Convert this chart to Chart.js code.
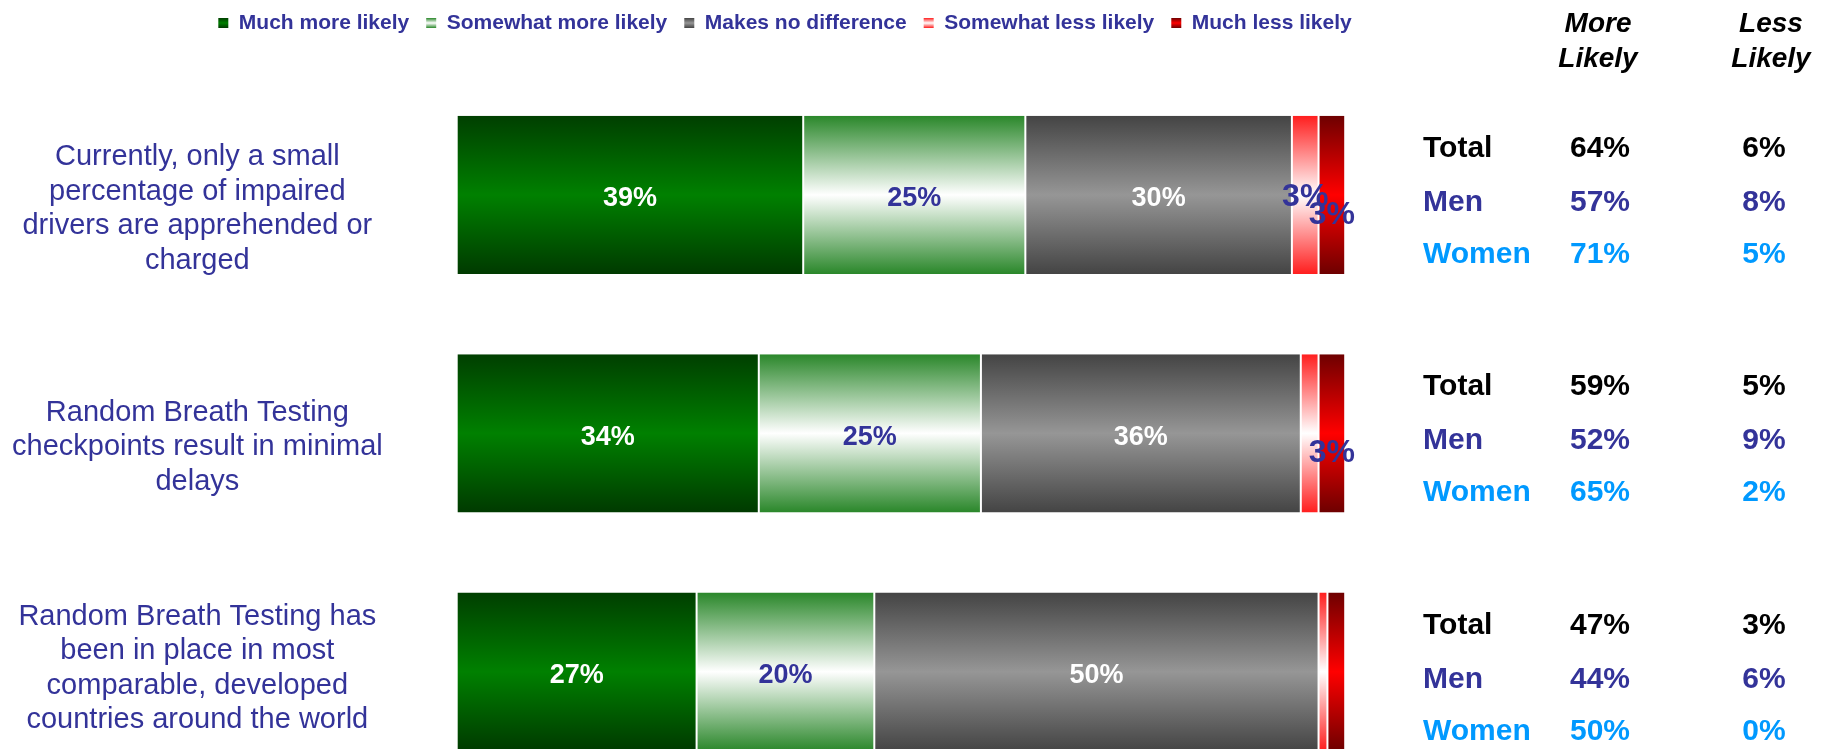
<!DOCTYPE html>
<html><head><meta charset="utf-8">
<script src="https://cdn.jsdelivr.net/npm/chart.js@4"></script>
<style>html,body{margin:0;padding:0;overflow:hidden;background:#fff;width:1836px;height:749px}canvas{display:block}</style>
</head><body>
<canvas id="c" width="1836" height="800"></canvas>
<script>
// ---- data ----
const categories = [
  ["Currently, only a small", "percentage of impaired", "drivers are apprehended or", "charged"],
  ["Random Breath Testing", "checkpoints result in minimal", "delays"],
  ["Random Breath Testing has", "been in place in most", "comparable, developed", "countries around the world"]
];
const seriesNames = ["Much more likely", "Somewhat more likely", "Makes no difference", "Somewhat less likely", "Much less likely"];
const muchMore     = [39, 34, 27];
const somewhatMore = [25, 25, 20];
const noDifference = [30, 36, 50];
const somewhatLess = [3, 2, 1];
const muchLess     = [3, 3, 2];

const columnHeaders = [["More", "Likely"], ["Less", "Likely"]];
const groupNames = ["Total", "Men", "Women"];
const totalMore = [64, 59, 47];
const totalLess = [6, 5, 3];
const menMore   = [57, 52, 44];
const menLess   = [8, 9, 6];
const womenMore = [71, 65, 50];
const womenLess = [5, 2, 0];

// ---- styles ----
const FONT = "'Liberation Sans', Arial, Helvetica, sans-serif";
const NAVY = '#333399';
const gradStops = [
  ['#003f00', '#008000', '#003a00'],
  ['#2a872a', '#ffffff', '#2a872a'],
  ['#444444', '#969696', '#444444'],
  ['#ff1e1e', '#ffffff', '#ff1e1e'],
  ['#6e0000', '#ff0000', '#6e0000']
];
const labelStyle = [
  {color: '#ffffff', size: 27, dy: 4, min: 0},
  {color: NAVY, size: 27, dy: 4, min: 0},
  {color: '#ffffff', size: 27, dy: 4, min: 0},
  {color: NAVY, size: 32, dy: 2, min: 3},
  {color: NAVY, size: 32, dy: 20, min: 3}
];
const BAR_FRACTION = 0.664;
const X_MAX = 125.3;

function makeGrad(ctx2d, y0, y1, stops) {
  const g = ctx2d.createLinearGradient(0, y0, 0, y1);
  g.addColorStop(0, stops[0]);
  g.addColorStop(0.5, stops[1]);
  g.addColorStop(1, stops[2]);
  return g;
}
function barFill(stops) {
  return (ctx) => {
    const chart = ctx.chart;
    const ys = chart.scales.y;
    if (!chart.chartArea || !ys || ctx.dataIndex === undefined) return stops[1];
    const c = ys.getPixelForValue(ctx.dataIndex);
    const half = (ys.height / categories.length) * BAR_FRACTION / 2;
    return makeGrad(chart.ctx, c - half, c + half, stops);
  };
}

const seriesData = [muchMore, somewhatMore, noDifference, somewhatLess, muchLess];
const datasets = seriesNames.map((name, i) => ({
  label: name,
  data: seriesData[i],
  backgroundColor: barFill(gradStops[i]),
  borderColor: '#ffffff',
  borderWidth: {left: 1, right: 1, top: 0, bottom: 0},
  borderSkipped: false,
  barPercentage: BAR_FRACTION,
  categoryPercentage: 1
}));

const valueLabels = {
  id: 'valueLabels',
  afterDatasetsDraw(chart) {
    const ctx = chart.ctx;
    ctx.save();
    chart.data.datasets.forEach((ds, di) => {
      const meta = chart.getDatasetMeta(di);
      const st = labelStyle[di];
      meta.data.forEach((el, j) => {
        const v = ds.data[j];
        if (v < st.min || v <= 0) return;
        const p = el.getProps(['x', 'base', 'y'], true);
        ctx.font = 'bold ' + st.size + 'px ' + FONT;
        ctx.fillStyle = st.color;
        ctx.textAlign = 'center';
        ctx.textBaseline = 'middle';
        ctx.fillText(v + '%', (p.x + p.base) / 2, p.y + st.dy);
      });
    });
    ctx.restore();
  }
};

const sideTable = {
  id: 'sideTable',
  afterDraw(chart) {
    const ctx = chart.ctx;
    const ys = chart.scales.y;
    const colX = [1600, 1764];
    const headX = [1598, 1771];
    ctx.save();
    ctx.textBaseline = 'alphabetic';
    ctx.font = 'italic bold 28px ' + FONT;
    ctx.fillStyle = '#000';
    ctx.textAlign = 'center';
    columnHeaders.forEach((h, k) => {
      ctx.fillText(h[0], headX[k], 31.5);
      ctx.fillText(h[1], headX[k], 67);
    });
    const rows = [
      {name: groupNames[0], more: totalMore, less: totalLess, color: '#000000', dy: -38},
      {name: groupNames[1], more: menMore, less: menLess, color: NAVY, dy: 16},
      {name: groupNames[2], more: womenMore, less: womenLess, color: '#0099ff', dy: 68}
    ];
    ctx.font = 'bold 30px ' + FONT;
    categories.forEach((c, i) => {
      const cy = ys.getPixelForValue(i);
      rows.forEach(r => {
        const y = cy + r.dy;
        ctx.fillStyle = r.color;
        ctx.textAlign = 'left';
        ctx.fillText(r.name, 1423, y);
        ctx.textAlign = 'center';
        ctx.fillText(r.more[i] + '%', colX[0], y);
        ctx.fillText(r.less[i] + '%', colX[1], y);
      });
    });
    ctx.restore();
  }
};

new Chart(document.getElementById('c'), {
  type: 'bar',
  data: {labels: categories, datasets},
  options: {
    indexAxis: 'y',
    responsive: false,
    animation: false,
    devicePixelRatio: 1,
    layout: {padding: {top: -4.5, left: 0, right: 266, bottom: 9.1}},
    plugins: {
      tooltip: {enabled: false},
      legend: {
        position: 'top',
        align: 'center',
        labels: {
          boxWidth: 10,
          boxHeight: 10,
          padding: 17,
          color: NAVY,
          font: {family: FONT, size: 21, weight: 'bold'},
          generateLabels(chart) {
            return chart.data.datasets.map((ds, i) => ({
              text: ds.label,
              fillStyle: makeGrad(chart.ctx, 18, 28, gradStops[i]),
              strokeStyle: 'rgba(0,0,0,0)',
              lineWidth: 0,
              hidden: false,
              datasetIndex: i,
              fontColor: NAVY
            }));
          }
        }
      }
    },
    scales: {
      x: {
        position: 'top',
        stacked: true,
        min: 0,
        max: X_MAX,
        grid: {display: false, drawTicks: false},
        border: {display: false},
        ticks: {display: false},
        afterFit(s) { s.height = 32.2; s.paddingLeft = 0; s.paddingRight = 0; }
      },
      y: {
        stacked: true,
        grid: {display: false, drawTicks: false},
        border: {display: false},
        ticks: {
          color: NAVY,
          padding: 74,
          labelOffset: 14,
          crossAlign: 'center',
          font: {family: FONT, size: 29, lineHeight: 1.19},
          callback: (v, i) => (i === 2 ? categories[i].concat(['']) : categories[i])
        },
        afterFit(s) { s.width = 456.7; s.paddingTop = 0; s.paddingBottom = 0; }
      }
    }
  },
  plugins: [valueLabels, sideTable]
});
</script>
</body></html>
